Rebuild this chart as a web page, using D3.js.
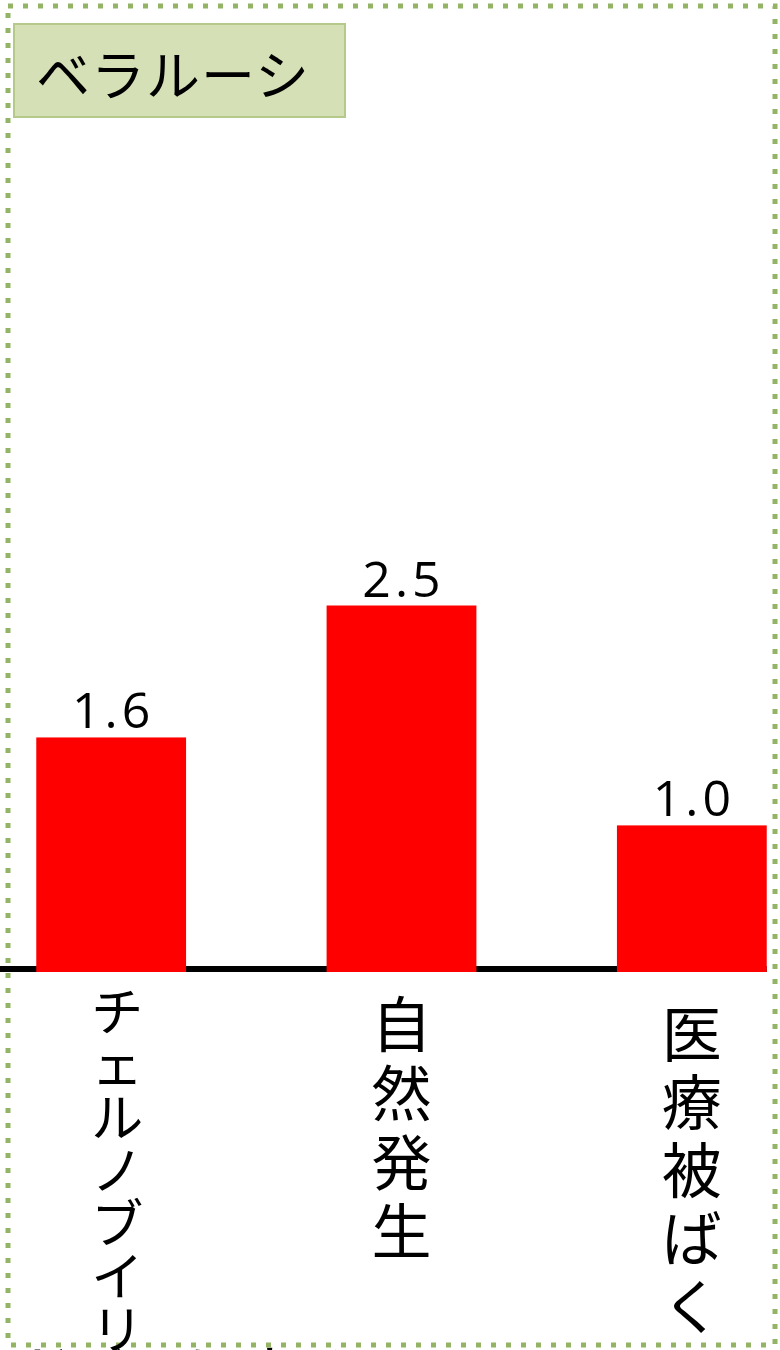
<!DOCTYPE html>
<html><head><meta charset="utf-8">
<script src="https://cdn.jsdelivr.net/npm/d3@7"></script>
<style>html,body{margin:0;padding:0;background:#fff;}svg{display:block;}</style>
</head><body>
<script>
const title = "ベラルーシ";
const categories = ["チェルノブイリ", "自然発生", "医療被ばく"];
const values = [1.6, 2.5, 1.0];
const valueLabels = ["1.6", "2.5", "1.0"];
const footerText = "ドイツによる";

const W = 780, H = 1350;
const svg = d3.select("body").append("svg").attr("width", W).attr("height", H);

const x = d3.scaleBand().domain(categories).range([-34, 837]).paddingInner(0.484).paddingOuter(0.242);
const y = d3.scaleLinear().domain([0, 2.5]).range([972, 605.5]);

// footer text (cut off by the page bottom)
svg.append("text").attr("x", 18).attr("y", 1392).attr("font-family", "Noto Sans CJK JP")
  .attr("font-size", 56).attr("fill", "#000").text(footerText);

// dotted frame
svg.append("rect").attr("x", 8).attr("y", 6).attr("width", 767).attr("height", 1339)
  .attr("fill", "none").attr("stroke", "#93b365").attr("stroke-width", 5).attr("stroke-dasharray", "5 10");

// title box
svg.append("rect").attr("x", 14).attr("y", 24).attr("width", 331).attr("height", 93)
  .attr("fill", "#d5e0b6").attr("stroke", "#b5c98b").attr("stroke-width", 2);
svg.append("text").attr("x", 36).attr("y", 72).attr("dominant-baseline", "central")
  .attr("font-family", "Noto Sans CJK JP").attr("font-size", 54).attr("letter-spacing", 1)
  .attr("fill", "#000").text(title);

// baseline
svg.append("line").attr("x1", 0).attr("x2", x(categories[2]) + x.bandwidth())
  .attr("y1", y(0) - 3).attr("y2", y(0) - 3).attr("stroke", "#000").attr("stroke-width", 6);

// bars
svg.selectAll("rect.bar").data(values).enter().append("rect").attr("class", "bar")
  .attr("x", (d, i) => x(categories[i])).attr("width", x.bandwidth())
  .attr("y", d => y(d)).attr("height", d => y(0) - y(d)).attr("fill", "#ff0000");

// value labels
svg.selectAll("text.val").data(values).enter().append("text").attr("class", "val")
  .attr("x", (d, i) => x(categories[i]) + x.bandwidth() / 2 + 2)
  .attr("y", d => y(d) - 9).attr("text-anchor", "middle")
  .attr("font-family", "Open Sans").attr("font-size", 50).attr("letter-spacing", 4)
  .attr("fill", "#000").text((d, i) => valueLabels[i]);

// vertical category labels, one character per text element
const pitches = [53, 69, 68];
const startCenters = [1008, 1020, 1030];
categories.forEach((c, i) => {
  const cx = x(c) + x.bandwidth() / 2 + (i === 0 ? 6 : 0);
  Array.from(c).forEach((ch, k) => {
    svg.append("text").attr("font-family", "Noto Sans CJK JP").attr("font-size", i === 0 ? 52 : 60)
      .attr("text-anchor", "middle").attr("dominant-baseline", "central").attr("fill", "#000")
      .attr("x", cx).attr("y", startCenters[i] + k * pitches[i]).text(ch);
  });
});
</script>
</body></html>
